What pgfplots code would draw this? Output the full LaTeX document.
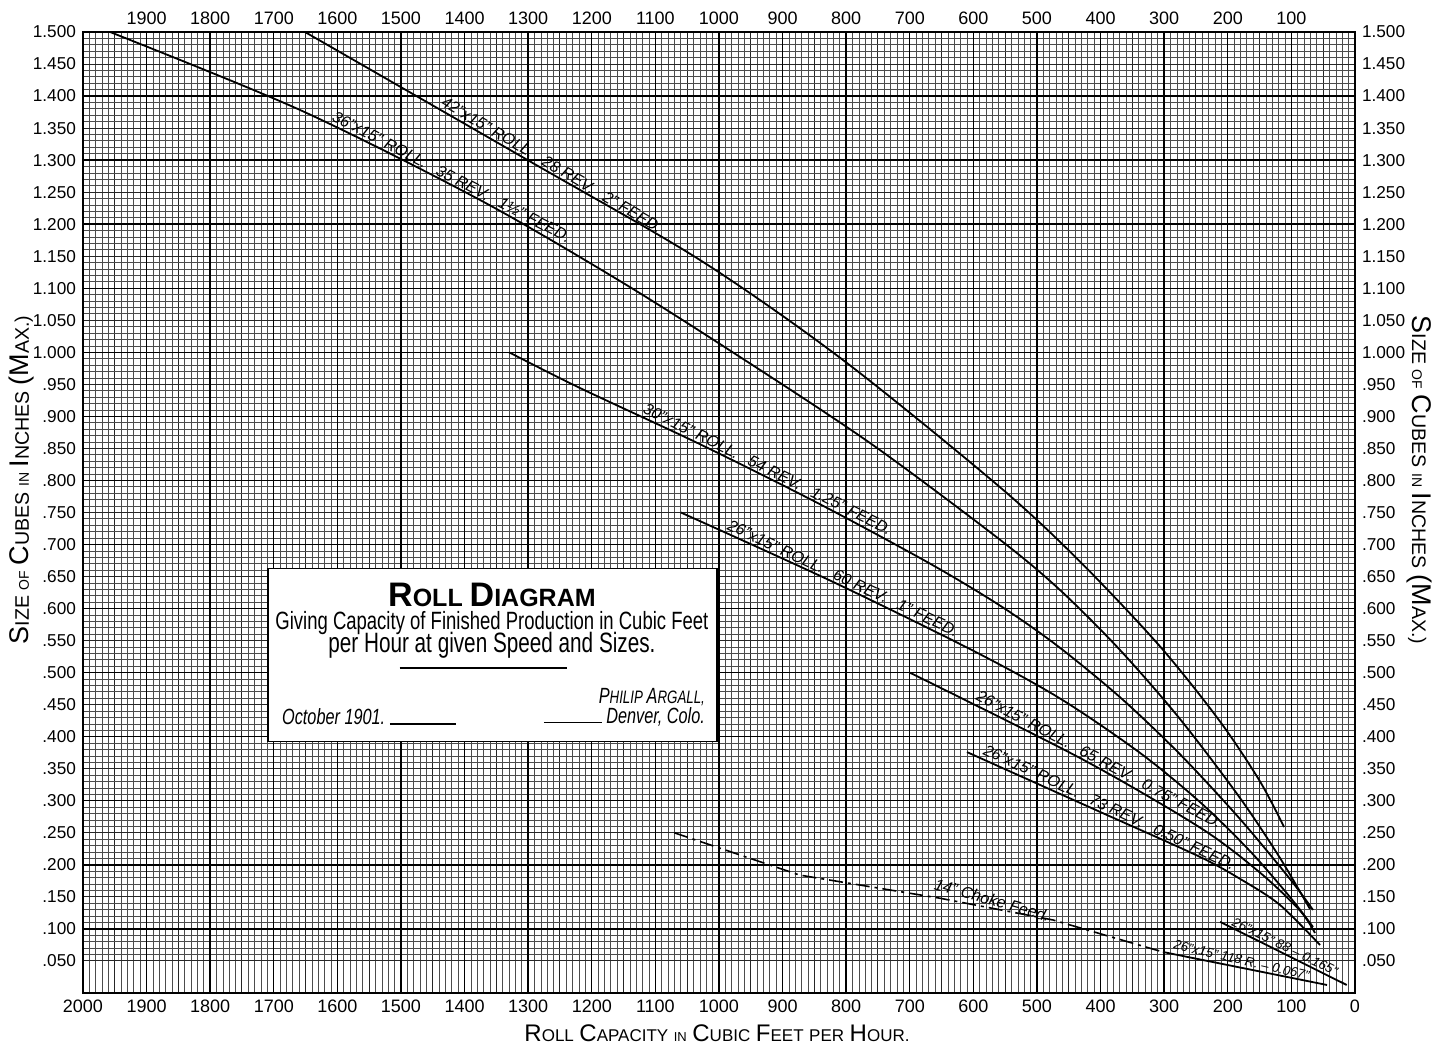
\documentclass[border=0pt]{standalone}
\usepackage{fontspec}
\setmainfont{Liberation Sans}
\newfontfamily\cond[FakeStretch=0.74]{Liberation Sans}
\usepackage{pgfplots}
\pgfplotsset{compat=1.18}
\newcommand{\lbl}{\fontsize{8}{9}\selectfont\itshape}
\newcommand{\lbs}{\fontsize{6.6}{7}\selectfont\itshape}
\newcommand{\gap}{\hspace{6pt}}
\newcommand{\Ybig}[1]{{\fontsize{13.5}{14}\selectfont #1}}
\newcommand{\Ysm}[1]{{\fontsize{9.8}{11}\selectfont #1}}
\newcommand{\Xbig}[1]{{\fontsize{12}{13}\selectfont #1}}
\newcommand{\Xsm}[1]{{\fontsize{8.5}{10}\selectfont #1}}
\begin{document}
\begin{tikzpicture}
\begin{axis}[name=main, scale only axis, width=636pt, height=480.5pt,
  xmin=0, xmax=2000, ymin=0, ymax=1.5, x dir=reverse,
  xtick={0,50,...,2000},
  xticklabels={0,{},100,{},200,{},300,{},400,{},500,{},600,{},700,{},800,{},900,{},1000,{},1100,{},1200,{},1300,{},1400,{},1500,{},1600,{},1700,{},1800,{},1900,{},2000},
  ytick={0.05,0.1,0.15,0.2,0.25,0.3,0.35,0.4,0.45,0.5,0.55,0.6,0.65,0.7,0.75,0.8,0.85,0.9,0.95,1.0,1.05,1.1,1.15,1.2,1.25,1.3,1.35,1.4,1.45,1.5},
  yticklabels={.050,.100,.150,.200,.250,.300,.350,.400,.450,.500,.550,.600,.650,.700,.750,.800,.850,.900,.950,1.000,1.050,1.100,1.150,1.200,1.250,1.300,1.350,1.400,1.450,1.500},
  minor x tick num=4, minor y tick num=4,
  grid=both,
  minor grid style={black!70, line width=0.4pt},
  major grid style={black!85, line width=0.5pt},
  extra x ticks={100,200,300,400,500,600,700,800,900,1000,1100,1200,1300,1400,1500,1600,1700,1800,1900},
  extra x tick labels={},
  extra y ticks={0.1,0.2,0.3,0.4,0.5,0.6,0.7,0.8,0.9,1.0,1.1,1.2,1.3,1.4},
  extra y tick labels={},
  extra tick style={major grid style={black, line width=0.7pt}},
  major tick length=0pt, minor tick length=0pt,
  axis line style={line width=1pt},
  yticklabel style={font=\fontsize{8.6}{9}\selectfont},
  xticklabel style={font=\fontsize{9}{10}\selectfont},
  /pgf/number format/assume math mode=true,
]
% 42x15
\addplot[black, line width=0.9pt, smooth] coordinates {(1651.0,1.5000) (1297.2,1.2980) (1029.9,1.1441) (805.0,0.9880) (558.2,0.7895) (432.4,0.6734) (306.6,0.5410) (212.3,0.4239) (149.4,0.3303) (111.6,0.2591)};
% 36x15
\addplot[black, line width=0.9pt, smooth] coordinates {(1957.5,1.5000) (1658.8,1.3783) (1375.8,1.2378) (1155.7,1.1113) (971.7,0.9958) (762.6,0.8585) (558.2,0.7075) (463.8,0.6290) (369.5,0.5354) (275.2,0.4277) (180.8,0.3044) (117.9,0.2107) (70.8,0.1311)};
% 30x15
\addplot[black, line width=0.9pt, smooth] coordinates {(1330,1.000) (1218.6,0.9443) (1029.9,0.8566) (841.2,0.7629) (668.2,0.6702) (558.2,0.6047) (468.6,0.5424) (369.5,0.4617) (275.2,0.3727) (180.8,0.2716) (102.2,0.1779) (66.0,0.1296)};
% 26x15 60 rev
\addplot[black, line width=0.9pt, smooth] coordinates {(1060,0.750) (825.5,0.6439) (600.6,0.5344) (463.8,0.4597) (338.1,0.3748) (243.7,0.2980) (165.1,0.2215) (102.2,0.1497) (66.0,0.1030)};
% 26x15 65 rev
\addplot[black, line width=0.9pt, smooth] coordinates {(700,0.500) (432.4,0.3668) (243.7,0.2582) (149.4,0.1879) (86.5,0.1286) (62.9,0.0937)};
% 26x15 73 rev
\addplot[black, line width=0.9pt, smooth] coordinates {(610,0.376) (400.9,0.2827) (243.7,0.2124) (176.1,0.1754) (117.9,0.1374) (55.0,0.0749)};
% choke feed
\addplot[black, line width=0.8pt, dash pattern=on 7pt off 2.5pt on 1.5pt off 2.5pt] coordinates {(1070,0.250) (873,0.184) (653,0.148) (475,0.114) (302,0.064)};
% 118 R
\addplot[black, line width=0.9pt] coordinates {(302,0.064) (44,0.0125)};
% 88
\addplot[black, line width=0.9pt] coordinates {(212,0.111) (13,0.0125)};

\node[rotate=-30.5, anchor=south, inner sep=1pt, font=\lbl] at (axis cs:1269,1.2818) {42"x15" ROLL.\gap 28 REV.\gap 2" FEED.};
\node[rotate=-27.5, anchor=south, inner sep=1pt, font=\lbl] at (axis cs:1426,1.2627) {36"x15" ROLL.\gap 35 REV.\gap 1½" FEED.};
\node[rotate=-26.5, anchor=south, inner sep=1pt, font=\lbl] at (axis cs:929,0.8067) {30"x15" ROLL.\gap 54 REV.\gap 1.25" FEED.};
\node[rotate=-25.2, anchor=south, inner sep=1pt, font=\lbl] at (axis cs:810,0.6362) {26"x15" ROLL.\gap 60 REV.\gap 1" FEED.};
\node[rotate=-28, anchor=south, inner sep=1pt, font=\lbl] at (axis cs:408,0.3532) {26"x15" ROLL.\gap 65 REV.\gap 0.75" FEED.};
\node[rotate=-25, anchor=south, inner sep=1pt, font=\lbl] at (axis cs:391.5,0.2785) {26"x15" ROLL.\gap 73 REV.\gap 0.50" FEED.};
\node[rotate=-16, anchor=south, inner sep=1pt, font=\lbl] at (axis cs:574,0.1328) {14" Choke Feed.};
\node[rotate=-26, anchor=south, inner sep=1pt, font=\lbs] at (axis cs:115,0.0624) {26"x15" 88 -- 0.165"};
\node[rotate=-13, anchor=south, inner sep=1pt, font=\lbs] at (axis cs:181,0.0406) {26"x15" 118 R. -- 0.067"};

% title box
\fill[white] (axis cs:1709,0.392) rectangle (axis cs:1003,0.663);
\draw[line width=0.6pt] (axis cs:1709,0.392) rectangle (axis cs:1003,0.663);
\node at (axis cs:1357,0.621) {\bfseries\fontsize{17}{18}\selectfont R\fontsize{12.5}{13}\selectfont OLL \fontsize{17}{18}\selectfont D\fontsize{12.5}{13}\selectfont IAGRAM};
\node at (axis cs:1357,0.5775) {\cond\fontsize{12.5}{13}\selectfont Giving Capacity of Finished Production in Cubic Feet};
\node at (axis cs:1357,0.543) {\cond\fontsize{14}{15}\selectfont per Hour at given Speed and Sizes.};
\draw[line width=1.1pt] (axis cs:1502,0.507) -- (axis cs:1239,0.507);
\node[anchor=east] at (axis cs:1011,0.462) {\cond\itshape\fontsize{11}{12}\selectfont P\fontsize{9}{10}\selectfont HILIP \fontsize{11}{12}\selectfont A\fontsize{9}{10}\selectfont RGALL,};
\node[anchor=west] at (axis cs:1698,0.431) {\cond\itshape\fontsize{11}{12}\selectfont October 1901.\ \rule{33pt}{0.7pt}};
\node[anchor=east] at (axis cs:1011,0.431) {\cond\itshape\fontsize{11}{12}\selectfont \rule{29pt}{0.7pt}\ Denver, Colo.};
\end{axis}
\begin{axis}[scale only axis, width=636pt, height=480.5pt,
  xmin=0, xmax=2000, ymin=0, ymax=1.5, x dir=reverse,
  xtick={100,200,300,400,500,600,700,800,900,1000,1100,1200,1300,1400,1500,1600,1700,1800,1900},
  xticklabels={100,200,300,400,500,600,700,800,900,1000,1100,1200,1300,1400,1500,1600,1700,1800,1900},
  ytick={0.05,0.1,0.15,0.2,0.25,0.3,0.35,0.4,0.45,0.5,0.55,0.6,0.65,0.7,0.75,0.8,0.85,0.9,0.95,1.0,1.05,1.1,1.15,1.2,1.25,1.3,1.35,1.4,1.45,1.5},
  yticklabels={.050,.100,.150,.200,.250,.300,.350,.400,.450,.500,.550,.600,.650,.700,.750,.800,.850,.900,.950,1.000,1.050,1.100,1.150,1.200,1.250,1.300,1.350,1.400,1.450,1.500},
  xticklabel pos=right, yticklabel pos=right,
  axis line style={draw=none}, major tick length=0pt,
  yticklabel style={font=\fontsize{8.6}{9}\selectfont},
  xticklabel style={font=\fontsize{9}{10}\selectfont},
]
\end{axis}
\node[rotate=90] at ([shift={(-30.5pt,256.5pt)}]main.south west) {\Ybig{S}\Ysm{IZE} {\fontsize{7}{8}\selectfont OF} \Ybig{C}\Ysm{UBES} {\fontsize{7}{8}\selectfont IN} \Ybig{I}\Ysm{NCHES} \Ybig{(M}\Ysm{AX.)}};
\node[rotate=-90] at ([shift={(668pt,256.5pt)}]main.south west) {\Ybig{S}\Ysm{IZE} {\fontsize{7}{8}\selectfont OF} \Ybig{C}\Ysm{UBES} {\fontsize{7}{8}\selectfont IN} \Ybig{I}\Ysm{NCHES} \Ybig{(M}\Ysm{AX.)}};
\node at ([shift={(317pt,-20pt)}]main.south west) {\Xbig{R}\Xsm{OLL} \Xbig{C}\Xsm{APACITY} {\fontsize{6.5}{7}\selectfont IN} \Xbig{C}\Xsm{UBIC} \Xbig{F}\Xsm{EET} \Xsm{PER} \Xbig{H}\Xsm{OUR.}};
\pgfresetboundingbox
\path ([shift={(-41.5pt,-27pt)}]main.south west) rectangle ([shift={(675.5pt,496.5pt)}]main.south west);
\end{tikzpicture}
\end{document}
